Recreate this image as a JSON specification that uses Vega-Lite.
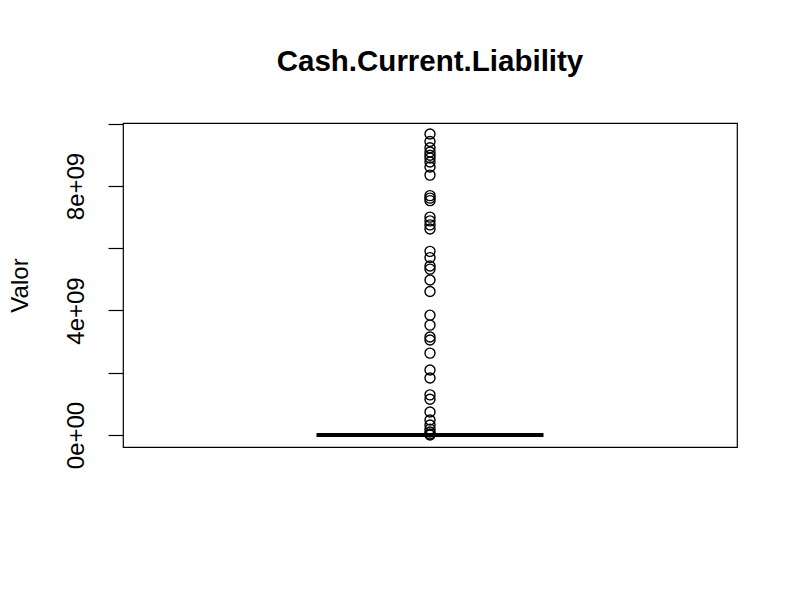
{
  "$schema": "https://vega.github.io/schema/vega-lite/v6.json",
  "description": "R-style boxplot of Cash.Current.Liability: box collapsed at zero, many outliers.",
  "autosize": "none",
  "width": 614,
  "height": 324,
  "padding": {"left": 123, "top": 123, "right": 63, "bottom": 153},
  "background": "white",
  "config": {
    "font": "Liberation Sans",
    "view": {"stroke": "black", "strokeWidth": 1.2}
  },
  "title": {
    "text": "Cash.Current.Liability",
    "anchor": "middle",
    "frame": "group",
    "font": "Liberation Sans",
    "fontSize": 29.5,
    "fontWeight": "bold",
    "color": "black",
    "baseline": "alphabetic",
    "offset": 23
  },
  "datasets": {
    "outliers": [
      {"variable": "Cash.Current.Liability", "value": 9670000000},
      {"variable": "Cash.Current.Liability", "value": 9430000000},
      {"variable": "Cash.Current.Liability", "value": 9230000000},
      {"variable": "Cash.Current.Liability", "value": 9090000000},
      {"variable": "Cash.Current.Liability", "value": 8990000000},
      {"variable": "Cash.Current.Liability", "value": 8900000000},
      {"variable": "Cash.Current.Liability", "value": 8770000000},
      {"variable": "Cash.Current.Liability", "value": 8610000000},
      {"variable": "Cash.Current.Liability", "value": 8350000000},
      {"variable": "Cash.Current.Liability", "value": 7690000000},
      {"variable": "Cash.Current.Liability", "value": 7610000000},
      {"variable": "Cash.Current.Liability", "value": 7530000000},
      {"variable": "Cash.Current.Liability", "value": 7000000000},
      {"variable": "Cash.Current.Liability", "value": 6880000000},
      {"variable": "Cash.Current.Liability", "value": 6750000000},
      {"variable": "Cash.Current.Liability", "value": 6620000000},
      {"variable": "Cash.Current.Liability", "value": 5900000000},
      {"variable": "Cash.Current.Liability", "value": 5700000000},
      {"variable": "Cash.Current.Liability", "value": 5430000000},
      {"variable": "Cash.Current.Liability", "value": 5330000000},
      {"variable": "Cash.Current.Liability", "value": 4980000000},
      {"variable": "Cash.Current.Liability", "value": 4610000000},
      {"variable": "Cash.Current.Liability", "value": 3850000000},
      {"variable": "Cash.Current.Liability", "value": 3530000000},
      {"variable": "Cash.Current.Liability", "value": 3150000000},
      {"variable": "Cash.Current.Liability", "value": 3050000000},
      {"variable": "Cash.Current.Liability", "value": 2630000000},
      {"variable": "Cash.Current.Liability", "value": 2090000000},
      {"variable": "Cash.Current.Liability", "value": 1830000000},
      {"variable": "Cash.Current.Liability", "value": 1290000000},
      {"variable": "Cash.Current.Liability", "value": 1150000000},
      {"variable": "Cash.Current.Liability", "value": 740000000},
      {"variable": "Cash.Current.Liability", "value": 480000000},
      {"variable": "Cash.Current.Liability", "value": 320000000},
      {"variable": "Cash.Current.Liability", "value": 190000000},
      {"variable": "Cash.Current.Liability", "value": 96000000},
      {"variable": "Cash.Current.Liability", "value": 30000000},
      {"variable": "Cash.Current.Liability", "value": 0}
    ],
    "stats": [
      {"variable": "Cash.Current.Liability", "q1": 0, "median": 0, "q3": 0}
    ]
  },
  "encoding": {
    "x": {"field": "variable", "type": "nominal", "axis": null}
  },
  "layer": [
    {
      "data": {"name": "stats"},
      "mark": {"type": "tick", "orient": "horizontal", "color": "black", "size": 227, "thickness": 4, "opacity": 1},
      "encoding": {
        "y": {
          "field": "median",
          "type": "quantitative",
          "scale": {"domain": [-385500000, 10024000000], "nice": false, "zero": false},
          "axis": {
            "title": "Valor",
            "values": [0, 2000000000, 4000000000, 6000000000, 8000000000, 10000000000],
            "labelExpr": "datum.value == 0 ? '0e+00' : datum.value == 4000000000 ? '4e+09' : datum.value == 8000000000 ? '8e+09' : ''",
            "grid": false,
            "domain": false,
            "ticks": true,
            "tickColor": "black",
            "tickSize": 15,
            "tickWidth": 1.2,
            "labelAngle": -90,
            "labelAlign": "center",
            "labelBaseline": "alphabetic",
            "labelPadding": 25,
            "labelFont": "Liberation Sans",
            "labelFontSize": 24,
            "labelColor": "black",
            "labelOverlap": false,
            "labelFlush": false,
            "titleFont": "Liberation Sans",
            "titleFontSize": 24,
            "titleFontWeight": "normal",
            "titleColor": "black",
            "titleAngle": -90,
            "titleAlign": "center",
            "titleBaseline": "alphabetic",
            "titleX": -96,
            "titleY": 162
          }
        }
      }
    },
    {
      "data": {"name": "outliers"},
      "mark": {"type": "point", "shape": "circle", "filled": false, "stroke": "black", "strokeWidth": 1.4, "size": 100, "opacity": 1},
      "encoding": {
        "y": {"field": "value", "type": "quantitative"}
      }
    }
  ]
}
